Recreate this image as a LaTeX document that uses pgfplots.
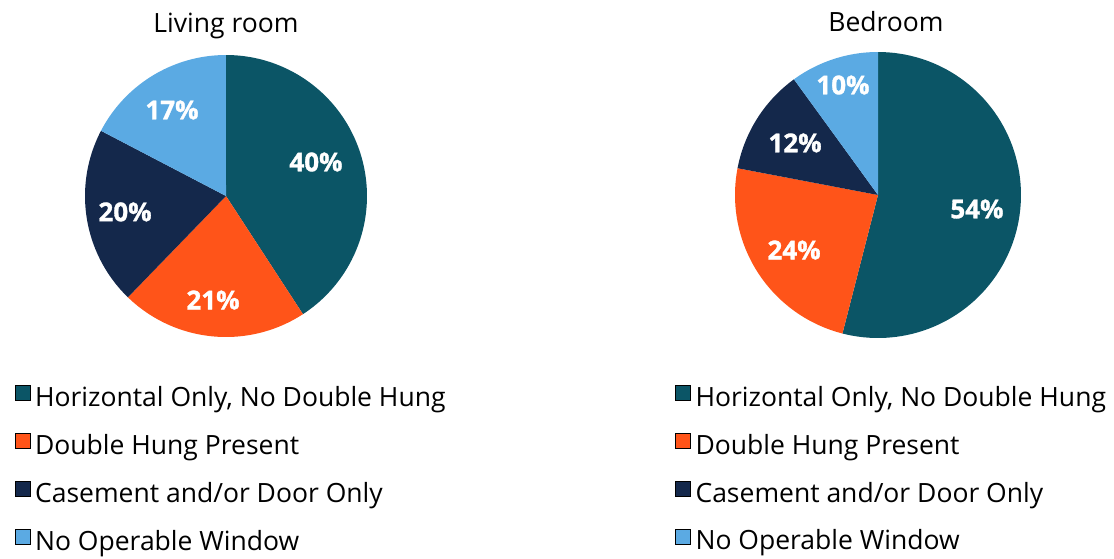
\documentclass[border=0pt]{standalone}
\usepackage{fontspec}
\setmainfont{Open Sans}
\usepackage{pgfplots}
\pgfplotsset{compat=1.18}
\definecolor{cTeal}{HTML}{0B5566}
\definecolor{cOrange}{HTML}{FF5419}
\definecolor{cNavy}{HTML}{14284B}
\definecolor{cBlue}{HTML}{5BAAE3}
% start (cumulative %), value (%), total (%), colour
\newcommand\slice[4]{%
  \addplot[fill=#4, draw=none, domain={90-360*(#1+#2)/#3}:{90-360*#1/#3}, samples=90, variable=\t, forget plot]
    ({cos(\t)},{sin(\t)}) -- (axis cs:0,0) -- cycle;}
\newcommand\lbl[3]{\node[text=white, font=\fontsize{26}{26}\selectfont\bfseries\addfontfeature{FakeBold=1.2}] at (axis cs:#1,#2) {#3};}
\pgfplotsset{
  pie/.style={
    hide axis, scale only axis, clip=false,
    xmin=-1, xmax=1, ymin=-1, ymax=1,
    title style={font=\fontsize{26.5}{26.5}\selectfont, anchor=base, at={(0.5,1)}},
    legend style={draw=none, fill=none, inner sep=0pt, anchor=north west,
      font=\fontsize{26.5}{26.5}\selectfont, row sep=20.6pt,
      nodes={inner sep=0pt, text height=19pt, text depth=6pt},
      /tikz/every odd column/.append style={column sep=5pt}},
    legend cell align=left,
    legend image code/.code={\fill[##1] (0pt,-0.5pt) rectangle (15pt,14.5pt);},
  }
}
\begin{document}
\begin{tikzpicture}
\useasboundingbox (0,0) rectangle (1114pt,-559pt);
\begin{axis}[pie, width=282pt, height=282pt, anchor=center, at={(226pt,-196pt)},
  title={Living room}, title style={yshift=17pt},
  legend style={at={(-0.250,-0.171)}}]
\slice{0}{40}{98}{cTeal}
\slice{40}{21}{98}{cOrange}
\slice{61}{20}{98}{cNavy}
\slice{81}{17}{98}{cBlue}
\lbl{0.638}{0.241}{40\%}
\lbl{-0.092}{-0.738}{21\%}
\lbl{-0.716}{-0.113}{20\%}
\lbl{-0.383}{0.610}{17\%}
\addlegendimage{fill=cTeal}\addlegendentry{Horizontal Only, No Double Hung}
\addlegendimage{fill=cOrange}\addlegendentry{Double Hung Present}
\addlegendimage{fill=cNavy}\addlegendentry{Casement and/or Door Only}
\addlegendimage{fill=cBlue}\addlegendentry{No Operable Window}
\end{axis}
\begin{axis}[pie, width=286pt, height=286pt, anchor=center, at={(878pt,-195pt)},
  title={Bedroom}, title style={xshift=8pt, yshift=15pt},
  legend style={at={(-0.210,-0.165)}}]
\slice{0}{54}{100}{cTeal}
\slice{54}{24}{100}{cOrange}
\slice{78}{12}{100}{cNavy}
\slice{90}{10}{100}{cBlue}
\lbl{0.692}{-0.098}{54\%}
\lbl{-0.587}{-0.385}{24\%}
\lbl{-0.580}{0.364}{12\%}
\lbl{-0.245}{0.769}{10\%}
\addlegendimage{fill=cTeal}\addlegendentry{Horizontal Only, No Double Hung}
\addlegendimage{fill=cOrange}\addlegendentry{Double Hung Present}
\addlegendimage{fill=cNavy}\addlegendentry{Casement and/or Door Only}
\addlegendimage{fill=cBlue}\addlegendentry{No Operable Window}
\end{axis}
\end{tikzpicture}
\end{document}
